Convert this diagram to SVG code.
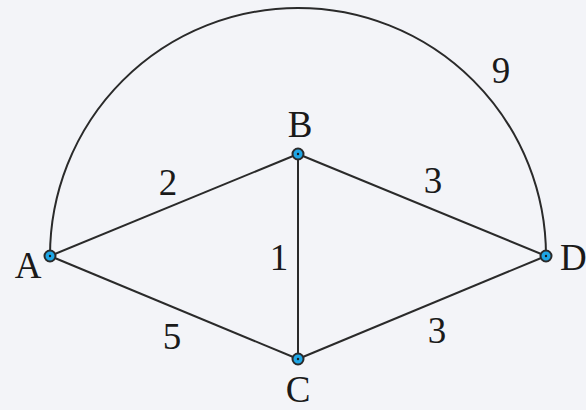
<svg xmlns="http://www.w3.org/2000/svg" width="586" height="410" viewBox="0 0 586 410">
<style>
.e{fill:none;stroke:#2a2a2a;stroke-width:2}
.n{fill:#1ea6e6;stroke:#2a2a2a;stroke-width:2}
.d{fill:#1a1a1a}
text{font-family:"Liberation Serif","DejaVu Serif",serif;font-size:37px;fill:#1a1a1a;text-anchor:middle}
</style>
<rect width="586" height="410" fill="#f3f4f8"/>
<g id="edges">
<path class="e" d="M50,256 A248,248 0 0 1 546,256"/>
<line class="e" x1="50" y1="256" x2="298" y2="154"/>
<line class="e" x1="50" y1="256" x2="298" y2="359"/>
<line class="e" x1="298" y1="154" x2="298" y2="359"/>
<line class="e" x1="298" y1="154" x2="546" y2="256"/>
<line class="e" x1="298" y1="359" x2="546" y2="256"/>
<text x="168" y="195">2</text>
<text x="279" y="270">1</text>
<text x="172" y="349">5</text>
<text x="433" y="193">3</text>
<text x="437" y="343">3</text>
<text x="501" y="83">9</text>
</g>
<g id="A"><circle class="n" cx="50" cy="256" r="5.5"/><circle class="d" cx="50" cy="256" r="1.2"/><text x="28" y="278">A</text></g>
<g id="B"><circle class="n" cx="298" cy="154" r="5.5"/><circle class="d" cx="298" cy="154" r="1.2"/><text x="300" y="137">B</text></g>
<g id="C"><circle class="n" cx="298" cy="359" r="5.5"/><circle class="d" cx="298" cy="359" r="1.2"/><text x="298" y="402">C</text></g>
<g id="D"><circle class="n" cx="546" cy="256" r="5.5"/><circle class="d" cx="546" cy="256" r="1.2"/><text x="560" y="270" style="text-anchor:start">D</text></g>
</svg>
